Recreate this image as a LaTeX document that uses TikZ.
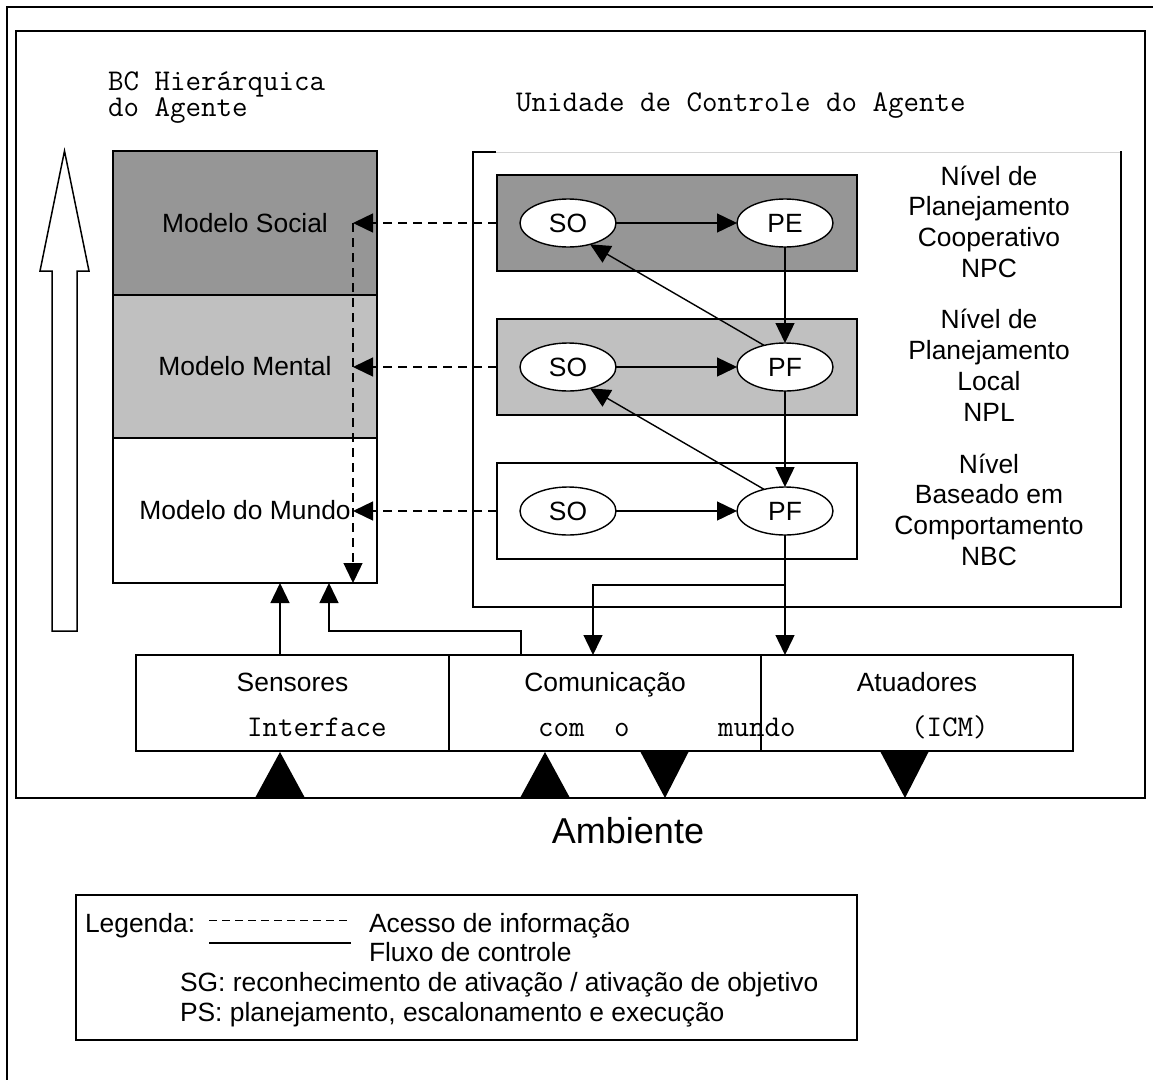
\documentclass[tikz,border=0pt]{standalone}
\usepackage{fontspec}
\setmainfont{Liberation Sans}
\usetikzlibrary{arrows.meta,shapes.geometric}
\definecolor{darkfill}{HTML}{969696}
\definecolor{lightfill}{HTML}{C0C0C0}
\definecolor{rulegray}{HTML}{D4D4D4}
\newcommand\dsans{\fontsize{26.4pt}{30pt}\selectfont}
\newcommand\dmono{\ttfamily\fontsize{30.1pt}{26.5pt}\selectfont}
\newcommand\dbig{\fontsize{36pt}{40pt}\selectfont}
\begin{document}
\begin{tikzpicture}[x=1pt,y=-1pt,
  every node/.style={inner sep=0pt, outer sep=0pt},
  frameline/.style={line width=1.6pt},
  block/.style={draw, rectangle, line width=1.6pt, inner sep=0pt},
  oval/.style={draw, ellipse, fill=white, line width=1.4pt,
    minimum width=96pt, minimum height=48pt, font=\dsans},
  flow/.style={line width=1.4pt, -{Triangle[length=20pt,width=19pt]}},
  info/.style={flow, dash pattern=on 9pt off 6pt},
  lbl/.style={anchor=base, font=\dsans},
  lblw/.style={anchor=base west, font=\dsans},
  mono/.style={anchor=base west, font=\dmono},
]
\useasboundingbox (0,0) rectangle (1153,1079);

% outer and inner frames
\draw[frameline] (7,1090) -- (7,7) -- (1160,7);
\draw[frameline] (16,31) rectangle (1145,798);

% titles (base anchor sits on the last line)
\node[mono, align=left] (bc) at (108,116.5) {BC Hierárquica\\do Agente};
\node[mono] (uca) at (516,111) {Unidade de Controle do Agente};

% hollow hierarchy arrow
\draw[line width=1.5pt, line join=miter]
  (52,631) -- (52,271) -- (40,271) -- (64.5,151) -- (89,271) -- (77,271) -- (77,631) -- cycle;

% knowledge base layers
\node[block, fill=darkfill, minimum width=264pt, minimum height=144pt, font=\dsans]
  (social) at (245,223) {Modelo Social};
\node[block, fill=lightfill, minimum width=264pt, minimum height=143pt, font=\dsans]
  (mental) at (245,366.5) {Modelo Mental};
\node[block, fill=white, minimum width=264pt, minimum height=145pt, font=\dsans]
  (mundo) at (245,510.5) {Modelo do Mundo};

% control unit frame
\draw[rulegray, line width=1pt] (496,152) -- (1121,152);
\draw[frameline] (496,152) -- (473,152) -- (473,607) -- (1121,607) -- (1121,151);

% control levels
\node[block, fill=darkfill, minimum width=360pt, minimum height=96pt] (npc) at (677,223) {};
\node[block, fill=lightfill, minimum width=360pt, minimum height=96pt] (npl) at (677,367) {};
\node[block, fill=white, minimum width=360pt, minimum height=96pt] (nbc) at (677,511) {};

\node[oval] (soC) at (568,223) {SO};
\node[oval] (peC) at (785,223) {PE};
\node[oval] (soL) at (568,367) {SO};
\node[oval] (pfL) at (785,367) {PF};
\node[oval] (soB) at (568,511) {SO};
\node[oval] (pfB) at (785,511) {PF};

% level names
\node[lbl] (c1) at (989,185) {Nível de};
\node[lbl] (c2) at (989,215.5) {Planejamento};
\node[lbl] (c3) at (989,246) {Cooperativo};
\node[lbl] (c4) at (989,277) {NPC};
\node[lbl] (l1) at (989,328) {Nível de};
\node[lbl] (l2) at (989,359) {Planejamento};
\node[lbl] (l3) at (989,390) {Local};
\node[lbl] (l4) at (989,421) {NPL};
\node[lbl] (b1) at (989,473) {Nível};
\node[lbl] (b2) at (989,503.5) {Baseado em};
\node[lbl] (b3) at (989,534) {Comportamento};
\node[lbl] (b4) at (989,565) {NBC};

% control flow inside the unit
\draw[flow] (soC) -- (peC);
\draw[flow] (soL) -- (pfL);
\draw[flow] (soB) -- (pfB);
\draw[flow] (peC) -- (pfL);
\draw[flow] (pfL) -- (pfB);
\draw[flow] (pfL.134) -- (soC.-44);
\draw[flow] (pfB.134) -- (soL.-44);

% information access
\coordinate (tS) at (353,223);
\coordinate (tM) at (353,367);
\coordinate (tW) at (353,511);
\draw[info] (npc.west) -- (tS);
\draw[info] (npl.west) -- (tM);
\draw[info] (nbc.west) -- (tW);
\draw[info] (tS) -- (tS |- mundo.south);

% interface with the world
\node[block, minimum width=313pt, minimum height=96pt] (sens) at (292.5,703) {};
\node[block, minimum width=312pt, minimum height=96pt] (comm) at (605,703) {};
\node[block, minimum width=312pt, minimum height=96pt] (atu) at (917,703) {};
\node[lbl] (sensT) at (292.5,691.5) {Sensores};
\node[lbl] (commT) at (605,691.5) {Comunicação};
\node[lbl] (atuT) at (917,691.5) {Atuadores};
\node[mono] (w1) at (247,736) {Interface};
\node[mono] (w2) at (538,736) {com};
\node[mono] (w3) at (614,736) {o};
\node[mono] (w4) at (718,736) {mundo};
\node[mono] (w5) at (911,736) {(ICM)};

% unit outputs
\coordinate (br) at (785,585);
\coordinate (cIn) at (593,655);
\draw[flow] (pfB) -- (pfB |- atu.north);
\draw[flow] (br) -| (cIn);

% perception inputs
\coordinate (sUp) at (280,655);
\coordinate (cUp) at (521,655);
\coordinate (mIn) at (329,583);
\draw[flow] (sUp) -- (sUp |- mundo.south);
\draw[flow] (cUp) -- ++(0,-24) -| (mIn);

% exchanges with the environment
\fill (255,798) -- (305,798) -- (280,752) -- cycle;
\fill (520,798) -- (570,798) -- (545,752) -- cycle;
\fill (640,751) -- (689,751) -- (665,798) -- cycle;
\fill (880,751) -- (929,751) -- (905,798) -- cycle;

\node[anchor=base, font=\dbig] (amb) at (628,843) {Ambiente};

% legend
\node[block, minimum width=781pt, minimum height=145pt] (leg) at (466.5,967.5) {};
\node[lblw] (legT) at (85,932) {Legenda:};
\draw[line width=1pt, dash pattern=on 8pt off 5pt] (209,920) -- (351,920);
\draw[line width=1.5pt] (209,943) -- (351,943);
\node[lblw] (legA) at (369,932) {Acesso de informação};
\node[lblw] (legF) at (369,961) {Fluxo de controle};
\node[lblw] (legS) at (180,991) {SG: reconhecimento de ativação / ativação de objetivo};
\node[lblw] (legP) at (180,1021) {PS: planejamento, escalonamento e execução};
\end{tikzpicture}
\end{document}
